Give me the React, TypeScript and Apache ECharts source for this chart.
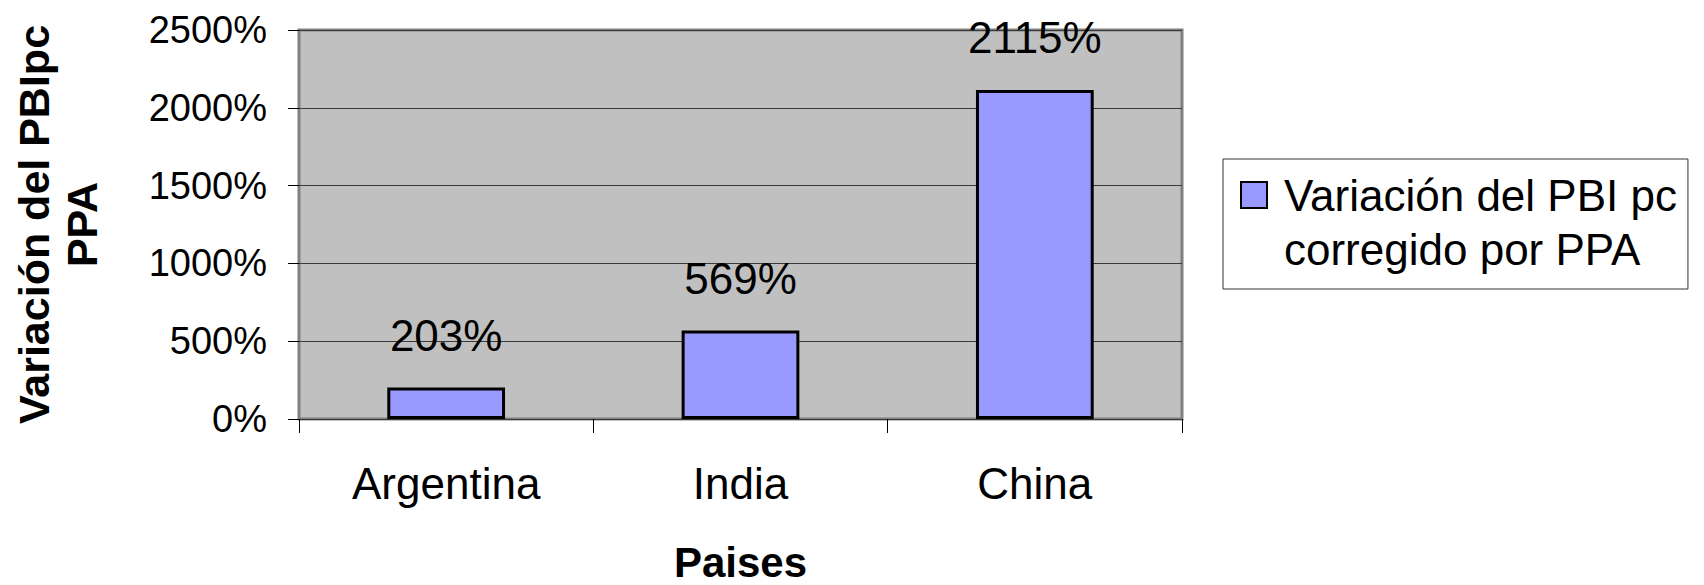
import React, { useEffect, useRef } from "react";
import * as echarts from "echarts";

const categories = ["Argentina", "India", "China"];
const seriesName = "Variación del PBI pc\ncorregido por PPA";
const values = [203, 569, 2115];
const yTicks = { min: 0, max: 2500, interval: 500 };
const yTitle = "Variación del PBIpc\nPPA";
const xTitle = "Paises";

const FONT = "'Liberation Sans', Arial, Helvetica, sans-serif";

export default function App() {
  const ref = useRef<HTMLDivElement>(null);
  useEffect(() => {
    if (!ref.current) return;
    const chart = echarts.init(ref.current, null, { renderer: "svg" });
    chart.setOption({
      animation: false,
      backgroundColor: "#ffffff",
      textStyle: { fontFamily: FONT, color: "#000" },
      grid: {
        left: 299,
        top: 30,
        width: 883,
        height: 389,
        outerBoundsMode: "none",
        containLabel: false,
        show: true,
        backgroundColor: "#c0c0c0",
        borderColor: "#808080",
        borderWidth: 3,
      },
      legend: {
        show: true,
        left: 1223,
        top: 159,
        orient: "vertical",
        padding: [8, 11, 12, 17],
        borderColor: "#333",
        borderWidth: 1,
        backgroundColor: "#fff",
        itemWidth: 38,
        itemHeight: 108,
        icon: "path://M0,0 M38,108 M0,14 L26,14 L26,40 L0,40 Z",
        textStyle: {
          fontFamily: FONT,
          fontSize: 44,
          lineHeight: 54,
          color: "#000",
        },
        data: [seriesName],
      },
      xAxis: {
        type: "category",
        data: categories,
        boundaryGap: true,
        axisLine: { show: false },
        axisTick: {
          show: true,
          length: 14,
          interval: 0,
          lineStyle: { color: "#000", width: 1 },
        },
        axisLabel: {
          fontFamily: FONT,
          fontSize: 44,
          lineHeight: 44,
          color: "#000",
          margin: 42,
        },
        name: xTitle,
        nameLocation: "middle",
        nameGap: 128,
        nameTextStyle: {
          fontFamily: FONT,
          fontSize: 42,
          fontWeight: "bold",
          lineHeight: 31,
          color: "#000",
        },
      },
      yAxis: {
        type: "value",
        min: yTicks.min,
        max: yTicks.max,
        interval: yTicks.interval,
        axisLine: { show: false },
        axisTick: { show: true, length: 11, lineStyle: { color: "#000", width: 1 } },
        axisLabel: {
          fontFamily: FONT,
          fontSize: 38,
          color: "#000",
          margin: 32,
          formatter: (v: number) => `${v}%`,
        },
        splitLine: { show: true, lineStyle: { color: "#3a3a3a", width: 1 } },
        name: yTitle,
        nameLocation: "middle",
        nameGap: 193,
        nameTextStyle: {
          fontFamily: FONT,
          fontSize: 43,
          fontWeight: "bold",
          lineHeight: 48,
          color: "#000",
        },
      },
      series: [
        {
          name: seriesName,
          type: "bar",
          data: values,
          barWidth: "40%",
          itemStyle: { color: "#9999ff", borderColor: "#000", borderWidth: 3 },
          label: {
            show: true,
            position: "top",
            distance: 30,
            fontFamily: FONT,
            fontSize: 44,
            lineHeight: 44,
            color: "#000",
            formatter: "{c}%",
          },
        },
      ],
    });
    return () => chart.dispose();
  }, []);
  return (
    <div
      ref={ref}
      style={{ position: "fixed", left: 0, top: 0, width: 1704, height: 585 }}
    />
  );
}
